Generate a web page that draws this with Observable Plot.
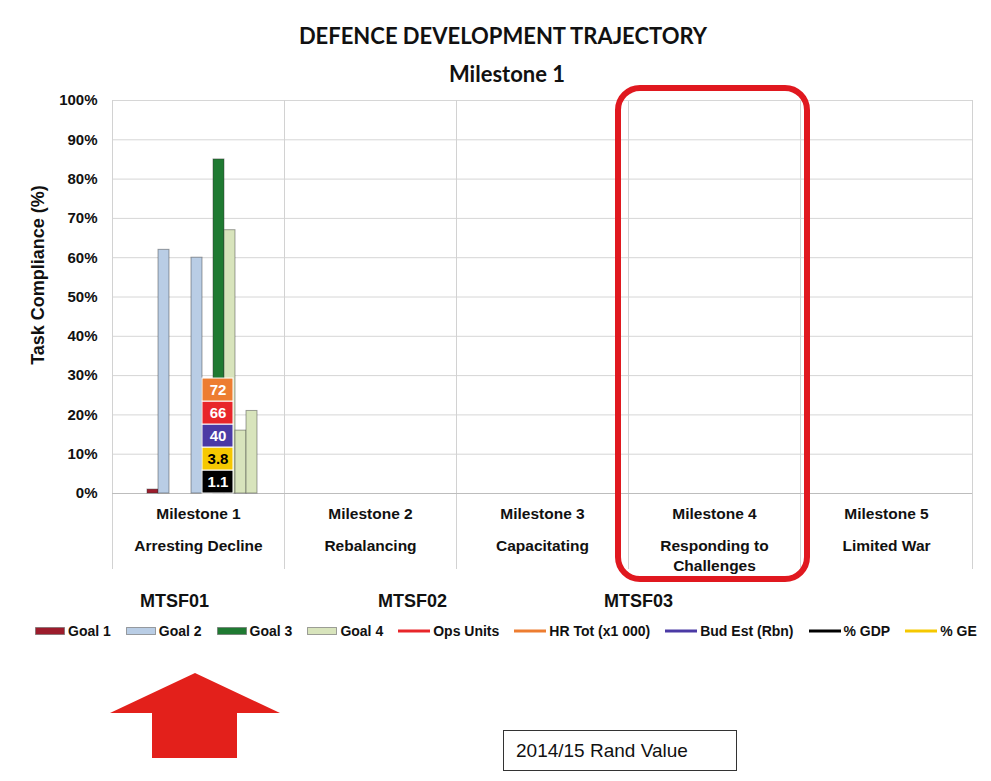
<!DOCTYPE html>
<html>
<head>
<meta charset="utf-8">
<script src="https://cdn.jsdelivr.net/npm/d3@7"></script>
<script src="https://cdn.jsdelivr.net/npm/@observablehq/plot@0.6"></script>
<style>
  body { margin: 0; background: #fff; font-family: "Liberation Sans", Arial, sans-serif; }
  #page { position: relative; width: 991px; height: 781px; overflow: hidden; }
  #head { position: relative; height: 80px; }
  .t1 { position: absolute; left: 0; width: 1006px; top: 22px; text-align: center; font-family: Lato, sans-serif; font-weight: bold; font-size: 22px; color: #111; }
  .t2 { position: absolute; left: 0; width: 1014px; top: 60px; text-align: center; font-family: Lato, sans-serif; font-weight: bold; font-size: 22px; color: #111; }
  #ylabel { position: absolute; left: 38px; top: 275px; transform: translate(-50%, -50%) rotate(-90deg); white-space: nowrap; font-weight: bold; font-size: 18px; color: #111; }
  .mtsf { position: absolute; top: 591px; font-weight: bold; font-size: 18px; color: #111; }
  #legend { position: absolute; left: 35px; top: 623px; width: 956px; overflow: hidden; white-space: nowrap; display: flex; align-items: center; font-weight: bold; font-size: 14px; color: #111; }
  .item { display: inline-flex; align-items: center; margin-right: 15px; }
  .item svg { margin-right: 3px; }
  #rand { position: absolute; left: 503px; top: 730px; width: 220px; height: 39px; border: 1.5px solid #333; font-size: 19px; line-height: 39px; padding-left: 12px; box-sizing: content-box; color: #111; }
  #arrow { position: absolute; left: 0; top: 0; }
</style>
</head>
<body>
<div id="page">
  <div id="head">
    <div class="t1">DEFENCE DEVELOPMENT TRAJECTORY</div>
    <div class="t2">Milestone 1</div>
  </div>
  <div id="chart"></div>
  <div id="ylabel">Task Compliance (%)</div>
  <div id="mtsf"></div>
  <div id="legend"></div>
  <svg id="arrow" width="991" height="781"><polygon points="110,713 195,673 280,713 237,713 237,758 152,758 152,713" fill="#e3201b"/></svg>
  <div id="rand">2014/15 Rand Value</div>
</div>
<script>
// ---- data ----
const milestones = ["Milestone 1", "Milestone 2", "Milestone 3", "Milestone 4", "Milestone 5"];
const milestoneNames = ["Arresting Decline", "Rebalancing", "Capacitating", "Responding to\nChallenges", "Limited War"];

const seriesNames = ["Goal 1", "Goal 2", "Goal 3", "Goal 4", "Ops Units", "HR Tot (x1 000)", "Bud Est (Rbn)", "% GDP", "% GE"];
const seriesColors = ["#9c1c2c", "#b9cde5", "#1f7a32", "#d8e4bc", "#e8262a", "#ed7d31", "#4b3aa5", "#000000", "#f5c800"];
const seriesKinds = ["bar", "bar", "bar", "bar", "line", "line", "line", "line", "line"];

// bars in Milestone 1 (slot = position within the milestone group)
const barMilestone = ["Milestone 1", "Milestone 1", "Milestone 1", "Milestone 1", "Milestone 1", "Milestone 1", "Milestone 1"];
const barSlot = [0, 1, 4, 6, 7, 8, 9];
const barSeries = ["Goal 1", "Goal 2", "Goal 2", "Goal 3", "Goal 4", "Goal 4", "Goal 4"];
const barValues = [1, 62, 60, 85, 67, 16, 21];

// value boxes (bottom to top)
const boxLabels = ["1.1", "3.8", "40", "66", "72"];
const boxSeries = ["% GDP", "% GE", "Bud Est (Rbn)", "Ops Units", "HR Tot (x1 000)"];

const mtsfLabels = ["MTSF01", "MTSF02", "MTSF03"];
const highlighted = "Milestone 4";

// ---- build ----
const bars = barValues.map((v, i) => ({milestone: barMilestone[i], slot: barSlot[i], series: barSeries[i], value: v}));
const boxes = boxLabels.map((t, i) => ({label: t, series: boxSeries[i]}));
const nameOf = new Map(milestones.map((m, i) => [m, milestoneNames[i]]));
const BOX_H = 5.85;     // box height in y units
const darkText = new Set(["% GE"]);

const chart = Plot.plot({
  width: 991,
  height: 510,
  marginTop: 20,
  marginLeft: 110,
  marginRight: 18,
  marginBottom: 97,
  style: {fontFamily: "'Liberation Sans', Arial, sans-serif", overflow: "visible", color: "#111"},
  fx: {domain: milestones, padding: 0, label: null, axis: null},
  x: {domain: d3.range(10), paddingInner: 0, paddingOuter: 2.19, align: 0.57, axis: null},
  y: {domain: [0, 100], label: null},
  color: {domain: seriesNames, range: seriesColors},
  marks: [
    // one (invisible) cell per milestone so every facet is drawn
    Plot.rect(milestones, {fx: d => d, fill: "none", stroke: "none"}),
    Plot.gridY(d3.range(10, 101, 10), {stroke: "#d6d6d6", strokeOpacity: 1}),
    Plot.frame({anchor: "left", stroke: "#d2d2d2", insetBottom: -75}),
    Plot.frame({anchor: "right", stroke: "#d2d2d2", insetBottom: -75}),
    Plot.ruleY([0], {stroke: "#bdbdbd"}),
    Plot.barY(bars, {fx: "milestone", x: "slot", y: "value", fill: "series", stroke: "#333", strokeOpacity: 0.45, strokeWidth: 1}),
    Plot.barY(boxes, Plot.stackY({fx: () => "Milestone 1", x: () => 5, y: () => BOX_H, fill: "series", stroke: "#fff", strokeWidth: 1, insetRight: -20})),
    Plot.text(boxes, Plot.stackY({fx: () => "Milestone 1", x: () => 5, y: () => BOX_H, text: "label", dx: 10, fontSize: 15, fontWeight: "bold",
      fill: d => darkText.has(d.series) ? "#000" : "#fff"})),
    Plot.rect([highlighted], {fx: d => d, fill: "none", stroke: "#e0181f", strokeWidth: 6, rx: 22,
      insetLeft: -10, insetRight: -7, insetTop: -12, insetBottom: -86}),
    Plot.axisY(d3.range(0, 101, 10), {tickFormat: d => d + "%", tickSize: 0, tickPadding: 15, fontSize: 15, fontWeight: "bold", label: null}),
    Plot.axisFx({anchor: "bottom", tickSize: 0, tickPadding: 14, fontSize: 15.5, fontWeight: "bold", label: null}),
    Plot.axisFx({anchor: "bottom", tickSize: 0, tickPadding: 44, fontSize: 15.5, fontWeight: "bold", label: null, lineHeight: 1.25, tickFormat: d => nameOf.get(d)})
  ]
});
document.getElementById("chart").appendChild(chart);

// MTSF labels
const mtsfLeft = [140, 378, 604];
const mt = document.getElementById("mtsf");
mtsfLabels.forEach((t, i) => {
  const d = document.createElement("div");
  d.className = "mtsf"; d.style.left = mtsfLeft[i] + "px"; d.textContent = t;
  mt.appendChild(d);
});

// legend
const lg = document.getElementById("legend");
seriesNames.forEach((s, i) => {
  const it = document.createElement("span");
  it.className = "item";
  const sw = seriesKinds[i] === "bar"
    ? `<svg width="30" height="10"><rect x="0.5" y="1.5" width="29" height="7" fill="${seriesColors[i]}" stroke="#666" stroke-opacity="0.6"/></svg>`
    : `<svg width="32" height="10"><line x1="0" x2="32" y1="5" y2="5" stroke="${seriesColors[i]}" stroke-width="3"/></svg>`;
  it.innerHTML = sw + `<span>${s}</span>`;
  lg.appendChild(it);
});
</script>
</body>
</html>
